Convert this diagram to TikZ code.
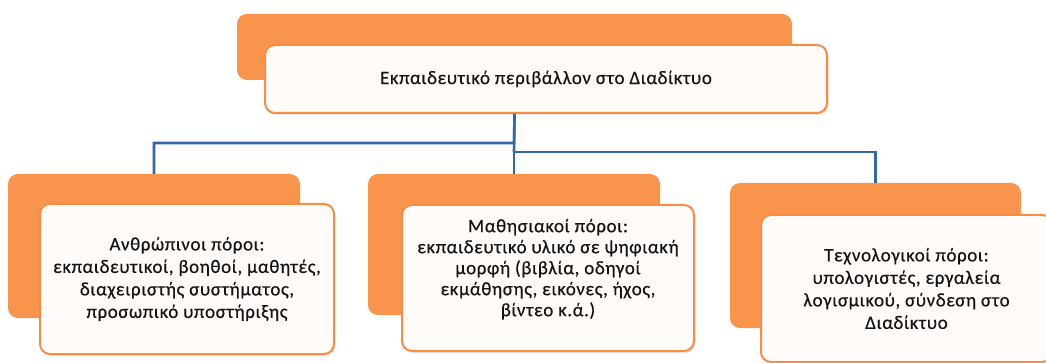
\documentclass[tikz,border=0pt]{standalone}
\usepackage{fontspec}
\setmainfont{Carlito}[LetterSpace=3,FakeBold=0.4]
\usetikzlibrary{shadows}
\definecolor{orangeback}{RGB}{248,148,76}
\definecolor{orangeline}{RGB}{247,140,66}
\definecolor{boxfill}{RGB}{255,251,248}
\definecolor{linkblue}{RGB}{52,104,160}
\definecolor{txt}{RGB}{20,20,20}
\tikzset{
  backbox/.style={rectangle, rounded corners=10pt, fill=orangeback, draw=none, inner sep=0pt},
  frontbox/.style={rectangle, rounded corners=10pt, fill=boxfill, draw=orangeline, line width=2pt,
     inner sep=0pt, align=center, text=txt, font=\fontsize{19}{22.5}\selectfont,
     drop shadow={shadow xshift=1.5pt, shadow yshift=-2pt, opacity=0.18}},
  link/.style={draw=linkblue, line width=2.6pt}
}
\begin{document}
\begin{tikzpicture}[x=1pt,y=-1pt]
\useasboundingbox (0,0) rectangle (1046,363);
% top
\node[backbox, minimum width=555pt, minimum height=66pt] (topback) at (514.5,47) {};
\node[frontbox, minimum width=562pt, minimum height=68pt] (top) at (546,79) {Εκπαιδευτικό περιβάλλον στο Διαδίκτυο};
% connectors
\coordinate (jl) at (514,143);
\coordinate (jr) at (514,152);
\draw[link] (topback.center |- top.south) -- (jr);
% left
\node[backbox, minimum width=292pt, minimum height=144pt] (lback) at (154,246) {};
\node[frontbox, minimum width=294pt, minimum height=150pt] (left) at (187,279)
  {Ανθρώπινοι πόροι:\\εκπαιδευτικοί, βοηθοί, μαθητές,\\διαχειριστής συστήματος,\\προσωπικό υποστήριξης};
% middle
\node[backbox, minimum width=292pt, minimum height=141pt] (mback) at (514,244.5) {};
\node[frontbox, minimum width=292pt, minimum height=146pt, font=\fontsize{19}{21}\selectfont] (mid) at (548,278)
  {Μαθησιακοί πόροι:\\εκπαιδευτικό υλικό σε ψηφιακή\\μορφή (βιβλία, οδηγοί\\εκμάθησης, εικόνες, ήχος,\\βίντεο κ.ά.)\\\mbox{}};
% right
\node[backbox, minimum width=291pt, minimum height=145pt] (rback) at (875.5,255.5) {};
\node[frontbox, minimum width=291pt, minimum height=147pt] (right) at (906.5,288.5)
  {Τεχνολογικοί πόροι:\\υπολογιστές, εργαλεία\\λογισμικού, σύνδεση στο\\Διαδίκτυο};
% links
\draw[link] (topback.center |- top.south) -- (jl) -| (lback.north);
\draw[link] (jr) -| (rback.north);
\draw[link] (jl) -- (mback.north);
\end{tikzpicture}
\end{document}
